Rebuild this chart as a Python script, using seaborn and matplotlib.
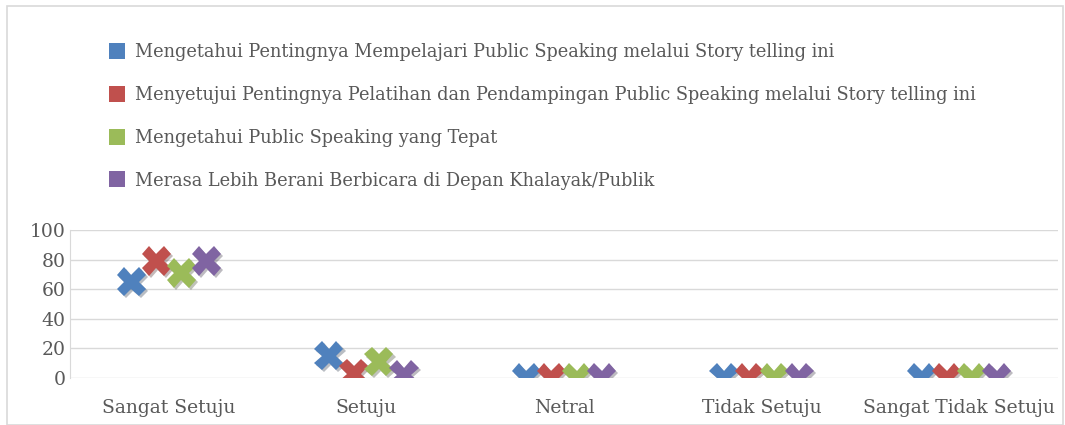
import pandas as pd
import matplotlib.pyplot as plt
import matplotlib.patheffects as pe
from matplotlib.patches import Rectangle
from matplotlib.lines import Line2D
import seaborn as sns

categories = ["Sangat Setuju", "Setuju", "Netral", "Tidak Setuju", "Sangat Tidak Setuju"]
series = [
    "Mengetahui Pentingnya Mempelajari Public Speaking melalui Story telling ini",
    "Menyetujui Pentingnya Pelatihan dan Pendampingan Public Speaking melalui Story telling ini",
    "Mengetahui Public Speaking yang Tepat",
    "Merasa Lebih Berani Berbicara di Depan Khalayak/Publik",
]
s1 = [65, 15, 0, 0, 0]
s2 = [79, 3, 0, 0, 0]
s3 = [71, 11, 0, 0, 0]
s4 = [79, 2, 0, 0, 0]
colors = ["#4F81BD", "#C0504D", "#9BBB59", "#8064A2"]

rows = []
for name, vals in zip(series, [s1, s2, s3, s4]):
    for c, v in zip(categories, vals):
        rows.append({"Kategori": c, "Seri": name, "Nilai": v})
df = pd.DataFrame(rows)

sns.set_style("white")
plt.rcParams["font.family"] = ["DejaVu Serif"]
text_col = "#595959"

fig = plt.figure(figsize=(10.65, 4.25), dpi=100)
ax = fig.add_axes([70 / 1065, 1 - 378 / 425, 988 / 1065, 148 / 425])

sns.pointplot(data=df, x="Kategori", y="Nilai", hue="Seri", hue_order=series,
              order=categories, palette=colors, dodge=0.38, linestyle="none",
              markers="X", markersize=21, errorbar=None, ax=ax, legend=False)
for ln in ax.lines:
    ln.set_markeredgewidth(0)
    ln.set_path_effects([pe.SimplePatchShadow(offset=(1.5, -1.5), alpha=0.3), pe.Normal()])

ax.set_ylim(0, 100)
ax.set_yticks(range(0, 101, 20))
ax.set_xlim(-0.5, 4.5)
ax.grid(axis="y", color="#D9D9D9", linewidth=1)
ax.set_axisbelow(True)
for side in ["top", "right", "bottom"]:
    ax.spines[side].set_visible(False)
ax.spines["left"].set_color("#D9D9D9")
ax.set_xlabel("")
ax.set_ylabel("")
ax.tick_params(axis="both", length=0, labelsize=13.5, colors=text_col)
ax.tick_params(axis="y", pad=3)
ax.tick_params(axis="x", pad=15)

handles = [Line2D([], [], marker="s", linestyle="none", markersize=11,
                  markerfacecolor=c, markeredgewidth=0) for c in colors]
fig.legend(handles, series, loc="upper left", bbox_to_anchor=(92 / 1065, 1 - 27 / 425),
           frameon=False, fontsize=12.8, labelcolor=text_col, labelspacing=1.4,
           handletextpad=0.5, handlelength=1.0)

fig.patches.append(Rectangle((7 / 1065, 0.0), 1 - 7 / 1065 - 2 / 1065, 1 - 6 / 425,
                             transform=fig.transFigure, fill=False,
                             edgecolor="#D9D9D9", linewidth=1.2))

fig.savefig("out.png", dpi=100, facecolor="white")
